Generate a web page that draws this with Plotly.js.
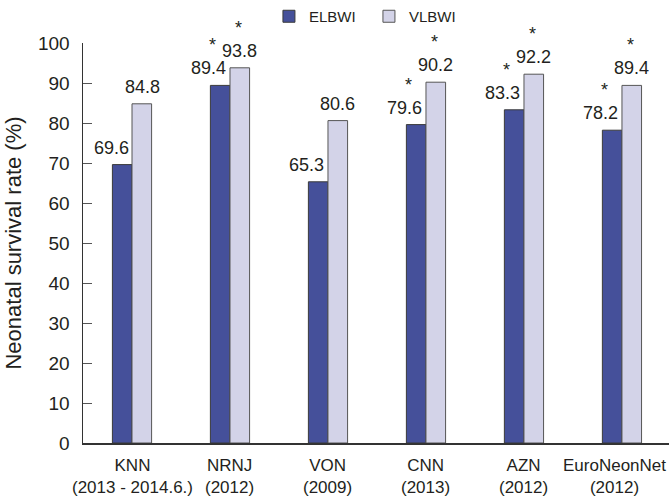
<!DOCTYPE html>
<html>
<head>
<meta charset="utf-8">
<script src="https://cdn.plot.ly/plotly-3.0.1.min.js"></script>
<style>html,body{margin:0;padding:0;background:#fff;}#chart{width:669px;height:497px;}</style>
</head>
<body>
<div id="chart"></div>
<script>
var categories = ["KNN", "NRNJ", "VON", "CNN", "AZN", "EuroNeonNet"];
var periods = ["(2013 - 2014.6.)", "(2012)", "(2009)", "(2013)", "(2012)", "(2012)"];
var elbwi = [69.6, 89.4, 65.3, 79.6, 83.3, 78.2];
var vlbwi = [84.8, 93.8, 80.6, 90.2, 92.2, 89.4];
var elbwiSig = [false, true, false, true, true, true];
var vlbwiSig = [false, true, false, true, true, true];
var yTicks = [0, 10, 20, 30, 40, 50, 60, 70, 80, 90, 100];

var FONT = "'Liberation Sans', Arial, sans-serif";
var TXT = '#231f20';

var traces = [
  {type: 'bar', name: 'ELBWI', x: categories, y: elbwi,
   marker: {color: '#45509a', line: {color: '#3a3a3a', width: 1}}},
  {type: 'bar', name: 'VLBWI', x: categories, y: vlbwi,
   marker: {color: '#d3d3e8', line: {color: '#555555', width: 1}}}
];

var ann = [];
function addLabels(vals, sig, barShift, labShift, starShift) {
  vals.forEach(function (v, i) {
    ann.push({x: categories[i], y: v, xref: 'x', yref: 'y', text: v.toFixed(1),
      showarrow: false, xanchor: 'center', yanchor: 'bottom',
      xshift: barShift + labShift, yshift: 5,
      font: {family: FONT, size: 18, color: TXT}});
    if (sig[i]) {
      ann.push({x: categories[i], y: v, xref: 'x', yref: 'y', text: '*',
        showarrow: false, xanchor: 'center', yanchor: 'bottom',
        xshift: barShift + starShift, yshift: 28,
        font: {family: FONT, size: 18, color: TXT}});
    }
  });
}
addLabels(elbwi, elbwiSig, -10, -11, -7.5);
addLabels(vlbwi, vlbwiSig, 10, 0, -1);

// category labels (two lines), last one nudged left to stay inside the picture
categories.forEach(function (c, i) {
  ann.push({x: c, y: 0, xref: 'x', yref: 'paper', text: c + '<br>' + periods[i],
    showarrow: false, xanchor: 'center', yanchor: 'top', yshift: -12, borderpad: 0,
    xshift: (i === categories.length - 1) ? -7 : 0,
    font: {family: FONT, size: 17, color: TXT}});
});

var layout = {
  width: 669, height: 497,
  margin: {l: 83, r: 0, t: 43, b: 54},
  paper_bgcolor: '#fff', plot_bgcolor: '#fff',
  font: {family: FONT, size: 17, color: TXT},
  barmode: 'group', bargap: 0.6, bargroupgap: 0,
  showlegend: true,
  legend: {orientation: 'h', x: 0.402, xref: 'container', xanchor: 'left',
    y: 1, yref: 'container', yanchor: 'top',
    font: {family: FONT, size: 15, color: TXT}, entrywidth: 55, entrywidthmode: 'pixels'},
  xaxis: {type: 'category', range: [-0.5, 5.48], showline: true, linecolor: '#333', linewidth: 1.5,
    ticks: '', showgrid: false, zeroline: false, showticklabels: false},
  yaxis: {range: [0, 100], tickvals: yTicks, showline: true, linecolor: '#333', linewidth: 1.5,
    ticks: 'inside', ticklen: 9, tickcolor: '#555', showgrid: false, zeroline: false,
    ticklabelstandoff: 8,
    tickfont: {family: FONT, size: 19, color: TXT},
    title: {text: 'Neonatal survival rate (%)', font: {family: FONT, size: 22, color: TXT}, standoff: 10}},
  annotations: ann
};

Plotly.newPlot('chart', traces, layout, {displayModeBar: false, staticPlot: true});
</script>
</body>
</html>
